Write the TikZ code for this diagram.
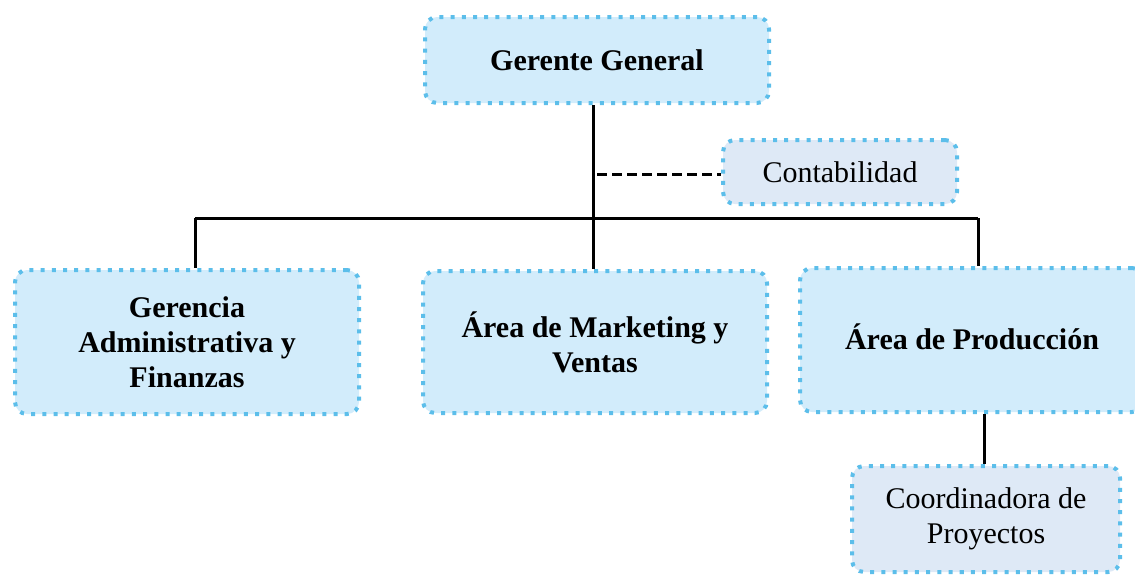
\documentclass[tikz,border=0pt]{standalone}
\usepackage{fontspec}
\setmainfont{Liberation Serif}
\usepackage{tikz}
\usetikzlibrary{positioning}
\definecolor{boxfill}{RGB}{210,236,251}
\definecolor{subfill}{RGB}{222,233,246}
\definecolor{dotblue}{RGB}{92,190,234}

\tikzset{
    unit/.style={draw=dotblue, line width=2pt, dash pattern=on 2pt off 3.6pt,
        rounded corners=6pt, fill=boxfill, align=center,
        font=\fontsize{15}{17.5}\selectfont\bfseries},
    staff/.style={unit, fill=subfill, font=\fontsize{15}{17.5}\selectfont},
    link/.style={line width=1.5pt, black}
}

\begin{document}
\begin{tikzpicture}[x=0.5pt, y=-0.5pt]
    \useasboundingbox (0,0) rectangle (1135,574);
    \clip (0,0) rectangle (1135,574);

    % top level
    \node[unit, minimum width=172pt, minimum height=43pt] (gg) at (597,60) {Gerente General};
    \node[staff, minimum width=117pt, minimum height=32pt] (cont) at (840,172) {Contabilidad};

    % areas
    \node[unit, minimum width=172pt, minimum height=72pt] (ger) at (187,342) {Gerencia\\Administrativa y\\Finanzas};
    \node[unit, minimum width=172pt, minimum height=71pt] (mkt) at (595,342) {Área de Marketing y\\Ventas};
    \node[unit, minimum width=172pt, minimum height=72pt] (prod) at (972,340) {\raisebox{3.5pt}{Área de Producción}};
    \node[staff, minimum width=134pt, minimum height=53pt] (coord) at (986,519) {Coordinadora de\\Proyectos};

    % connectors
    \coordinate (busL) at (195,218);
    \coordinate (busR) at (978,218);
    \draw[link] (gg.south -| 593,0) -- (mkt.north -| 593,0);
    \draw[link, dash pattern=on 5pt off 2.5pt] (597,174) -- (cont.west |- 0,174);
    \draw[link] (busL) -- (busR);
    \draw[link] (busL) -- (busL |- ger.north);
    \draw[link] (busR) -- (busR |- prod.north);
    \draw[link] (prod.south -| 984,0) -- (coord.north -| 984,0);
\end{tikzpicture}
\end{document}
